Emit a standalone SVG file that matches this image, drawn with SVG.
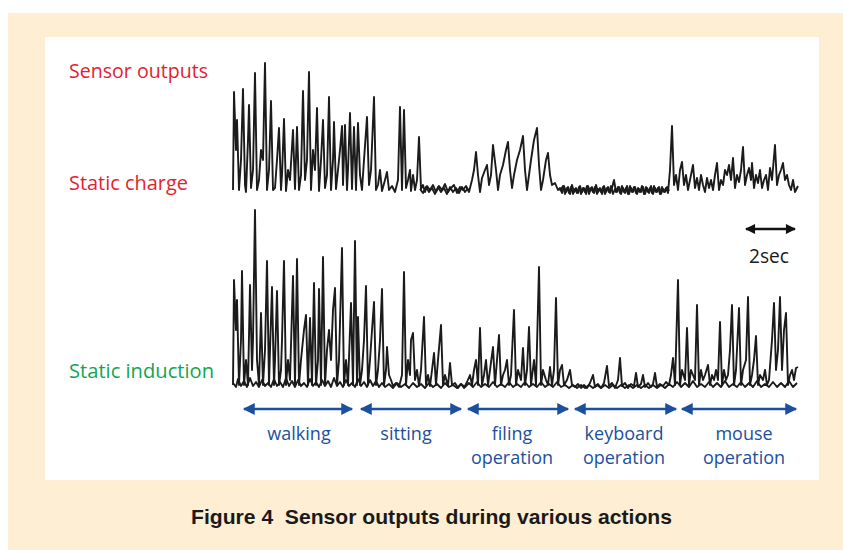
<svg xmlns="http://www.w3.org/2000/svg" width="843" height="550" viewBox="0 0 843 550">
  <defs>
    <style>
      .lbl { font-family: "Open Sans", "Noto Sans", "Liberation Sans", sans-serif; font-size: 19.5px; }
      .sm { font-size: 18px; }
      .red { fill: #e4222d; }
      .green { fill: #12a550; }
      .blue { fill: #1c4f9d; }
      .trace { fill: none; stroke: #1b1b1b; stroke-width: 1.9; stroke-linejoin: round; }
      .span { stroke: #1c4f9d; stroke-width: 2.6; fill: none; }
      .scale { stroke: #111; stroke-width: 2.4; fill: none; }
      .cap { font-family: "Liberation Sans", Arial, sans-serif; font-weight: bold; font-size: 21px; fill: #1a1a1a; white-space: pre; }
    </style>
    <marker id="blueHead" viewBox="0 0 10 10" refX="9" refY="5" markerWidth="5" markerHeight="4.6" orient="auto-start-reverse" markerUnits="strokeWidth">
      <path d="M0,0 L10,5 L0,10 z" fill="#1c4f9d"/>
    </marker>
    <marker id="blackHead" viewBox="0 0 10 10" refX="9" refY="5" markerWidth="5" markerHeight="4.2" orient="auto-start-reverse" markerUnits="strokeWidth">
      <path d="M0,0 L10,5 L0,10 z" fill="#111"/>
    </marker>
  </defs>

  <!-- page background and figure panel -->
  <rect x="8" y="13" width="835" height="537" fill="#fdeed4"/>
  <rect x="45" y="37" width="774" height="443" fill="#ffffff"/>

  <!-- row labels -->
  <g id="label-sensor-outputs"><text class="lbl red" x="69" y="78" textLength="139" lengthAdjust="spacingAndGlyphs">Sensor outputs</text></g>
  <g id="label-static-charge"><text class="lbl red" x="69" y="190" textLength="119" lengthAdjust="spacingAndGlyphs">Static charge</text></g>
  <g id="label-static-induction"><text class="lbl green" x="69" y="378" textLength="145" lengthAdjust="spacingAndGlyphs">Static induction</text></g>

  <!-- static charge trace -->
  <g id="trace-static-charge">
    <polyline class="trace" points="233,190 234,92 236,150 237,120 239,190 241,160 243,89 245,185 246,192 248,140 249,105 251,188 253,170 255,73 257,190 259,180 261,150 263,160 265,63 267,190 269,170 271,101 273,190 275,188 277,160 279,128 281,190 282,175 284,119 286,191 288,170 290,180 293,130 295,189 297,127 299,190 301,175 303,91 305,180 307,160 309,72 311,190 313,150 315,170 317,108 319,191 321,160 323,120 325,188 327,175 329,97 331,190 333,160 334,122 336,189 338,170 340,150 342,126 343,185 345,125 347,190 348,170 350,113 352,189 354,127 356,190 358,123 360,175 362,190 364,160 367,117 369,185 371,170 374,97 376,190 378,185 380,170 382,191 385,180 387,172 389,190 392,186 395,192 398,180 400,107 402,190 404,110 406,188 408,180 410,170 411,191 413,175 415,190 417,180 419,137 421,189 423,185 425,192 427,186 430,190 433,185 436,192 439,186 442,190 445,184 448,192 451,188 454,185 457,193 460,187 463,190 466,186 469,192 472,180 474,170 476,152 478,175 480,192 482,178 485,170 487,165 489,185 491,175 493,145 496,170 498,190 500,175 503,165 506,150 508,142 510,170 512,188 514,175 517,160 520,150 523,136 525,170 527,190 529,175 531,160 534,140 537,128 539,165 541,190 543,180 546,160 548,153 550,175 552,185 555,183 558,190 560,188 562,193 564,186 566,192 568,187 570,194 572,185 574,192 576,188 578,193 580,186 582,192 584,188 586,194 588,186 590,191 592,187 594,193 596,185 598,192 600,188 602,194 604,186 606,192 608,187 610,193 612,188 614,180 616,192 618,187 620,193 622,186 624,192 626,188 628,194 630,186 632,192 634,187 636,193 638,188 640,192 642,186 644,194 646,187 648,192 650,188 652,193 654,186 656,192 658,188 660,194 662,187 664,192 666,188 668,193 670,170 672,126 674,185 676,175 678,190 680,170 682,162 684,185 686,175 688,190 690,180 693,165 695,188 697,178 699,190 701,175 703,185 705,192 707,178 709,188 711,180 713,190 715,175 717,163 719,190 721,180 723,185 725,170 727,175 729,165 731,180 733,158 735,188 737,175 739,182 741,170 743,147 745,185 747,175 749,168 751,180 752,163 754,188 756,175 758,183 760,170 762,188 764,180 766,175 768,190 770,168 772,180 775,145 777,185 779,175 781,170 783,163 785,180 787,175 789,185 791,190 793,180 795,192 798,186"/>
    <!-- dense noise floor in the quiet stretches -->
    <polyline class="trace" points="420,189 423,193 426,187 429,192 432,188 435,194 438,187 441,192 444,188 447,194 450,187 453,192 456,188 459,193 462,187 465,192 468,188"/>
    <polyline class="trace" points="560,191 563,186 565,194 567,188 569,193 571,187 573,194 575,189 577,193 579,187 581,194 583,188 585,192 587,186 589,194 591,188 593,192 595,187 597,194 599,189 601,192 603,187 605,194 607,188 609,192 611,186 613,194 615,189 617,192 619,187 621,194 623,188 625,193 627,186 629,194 631,188 633,192 635,187 637,194 639,189 641,192 643,187 645,194 647,188 649,193 651,186 653,194 655,188 657,192 659,187 661,194 663,189 665,192 667,187 669,191"/>
  </g>

  <!-- static induction trace -->
  <g id="trace-static-induction">
    <polyline class="trace" points="233,385 234,280 236,330 237,300 239,385 241,340 242,271 244,385 246,360 248,385 250,285 252,370 253,340 255,210 257,360 259,385 261,313 263,385 265,350 267,261 269,385 270,350 272,287 274,385 275,360 277,291 279,385 281,370 282,340 284,261 286,385 288,360 290,380 293,276 295,385 297,259 299,385 301,360 304,330 306,315 308,385 310,318 312,385 314,283 316,385 318,360 319,289 321,385 323,257 325,385 327,350 329,330 331,360 333,310 335,288 337,385 339,360 342,248 344,385 346,360 348,385 351,303 353,385 355,241 357,385 358,317 360,385 362,370 364,340 366,286 368,385 370,360 372,330 374,302 376,385 378,370 380,340 382,289 384,385 386,370 387,347 389,375 391,380 393,386 396,383 399,387 402,375 404,272 406,385 408,360 410,375 411,340 413,333 415,380 417,370 419,386 421,370 424,317 426,385 428,375 430,386 432,370 434,353 436,385 438,360 441,325 443,385 445,375 448,386 450,363 452,385 455,383 458,388 461,384 464,388 467,382 470,375 472,385 474,370 476,360 478,385 480,328 482,385 484,375 486,360 488,385 490,370 493,347 495,385 497,360 499,335 501,385 503,375 505,370 507,360 509,385 511,375 514,310 516,385 518,370 521,380 523,348 525,385 527,370 529,327 531,385 534,360 536,385 539,267 541,385 543,370 546,380 548,385 550,367 552,385 554,370 556,298 558,385 560,370 562,365 564,385 567,380 570,370 572,385 575,387 578,384 581,388 584,385 587,388 590,383 593,375 595,387 598,384 601,388 604,383 607,366 609,386 612,383 615,388 618,380 620,358 622,386 625,383 628,388 631,384 634,386 636,373 638,387 641,384 643,375 645,387 648,383 651,387 653,384 655,373 657,387 660,384 663,386 666,382 669,385 671,375 673,358 675,385 678,280 680,385 682,370 685,380 687,328 689,385 691,370 693,375 695,380 697,305 699,385 701,370 703,380 705,375 708,365 710,385 712,375 714,380 716,370 718,380 720,322 722,385 724,370 726,380 728,375 730,350 732,305 734,385 736,370 739,308 741,385 743,370 746,360 748,297 750,385 752,375 754,360 756,336 758,385 760,375 763,380 765,370 767,385 769,380 772,340 774,303 776,370 778,350 780,297 782,370 784,330 786,313 788,385 790,375 792,370 794,380 796,368 798,367"/>
    <!-- dense noise floor -->
    <polyline class="trace" points="233,383 236,387 238,379 241,386 244,381 247,387 250,378 253,386 256,382 259,387 262,380 265,386 268,383 271,387 274,379 277,386 280,382 283,387 286,378 289,386 292,381 295,387 298,380 301,386 304,383 307,387 310,379 313,386 316,382 319,387 322,380 325,386 328,381 331,387 334,378 337,386 340,382 343,387 346,380 349,386 352,383 355,387 358,379 361,386 364,382 367,387 370,380 373,386 376,381 379,387 382,383 385,387 389,384 393,388 397,383 401,387 405,384 409,388 413,383 417,387 421,384 425,388 429,383 433,387 437,384 441,388 445,383 449,387 453,385 457,388 461,384 465,387 469,383 473,387 477,382 481,387 485,384 489,387 493,382 497,387 501,384 505,387 509,382 513,387 517,384 521,387 525,382 529,387 533,384 537,387 541,382 545,387 549,384 553,387 557,382 561,387 565,385 569,388 573,385 577,388 581,385 585,388 589,385 593,388 597,385 601,388 605,385 609,388 613,385 617,388 621,385 625,388 629,385 633,388 637,385 641,388 645,385 649,388 653,385 657,388 661,385 665,388 669,384 673,387 677,382 681,387 685,383 689,387 693,381 697,387 701,384 705,387 709,382 713,387 717,383 721,387 725,381 729,387 733,384 737,387 741,382 745,387 749,383 753,387 757,381 761,387 765,384 769,387 773,382 777,387 781,383 785,387 789,381 793,387 797,383"/>
  </g>

  <!-- time scale -->
  <g id="time-scale">
    <line class="scale" x1="746" y1="229" x2="795" y2="229" marker-start="url(#blackHead)" marker-end="url(#blackHead)"/>
    <text class="lbl" x="749" y="263" fill="#1a1a1a" textLength="40" lengthAdjust="spacingAndGlyphs">2sec</text>
  </g>

  <!-- action spans -->
  <g id="spans">
    <line class="span" x1="244" y1="409" x2="352" y2="409" marker-start="url(#blueHead)" marker-end="url(#blueHead)"/>
    <line class="span" x1="361" y1="409" x2="461" y2="409" marker-start="url(#blueHead)" marker-end="url(#blueHead)"/>
    <line class="span" x1="468" y1="409" x2="568" y2="409" marker-start="url(#blueHead)" marker-end="url(#blueHead)"/>
    <line class="span" x1="575" y1="409" x2="676" y2="409" marker-start="url(#blueHead)" marker-end="url(#blueHead)"/>
    <line class="span" x1="682" y1="409" x2="796" y2="409" marker-start="url(#blueHead)" marker-end="url(#blueHead)"/>
  </g>

  <g id="label-walking"><text class="lbl sm blue" x="299" y="440" text-anchor="middle">walking</text></g>
  <g id="label-sitting"><text class="lbl sm blue" x="406" y="440" text-anchor="middle">sitting</text></g>
  <g id="label-filing"><text class="lbl sm blue" x="512" y="440" text-anchor="middle">filing</text><text class="lbl sm blue" x="512" y="464" text-anchor="middle">operation</text></g>
  <g id="label-keyboard"><text class="lbl sm blue" x="624" y="440" text-anchor="middle">keyboard</text><text class="lbl sm blue" x="624" y="464" text-anchor="middle">operation</text></g>
  <g id="label-mouse"><text class="lbl sm blue" x="744" y="440" text-anchor="middle">mouse</text><text class="lbl sm blue" x="744" y="464" text-anchor="middle">operation</text></g>

  <!-- caption -->
  <text class="cap" x="191" y="524" textLength="481" lengthAdjust="spacingAndGlyphs">Figure 4  Sensor outputs during various actions</text>
</svg>
